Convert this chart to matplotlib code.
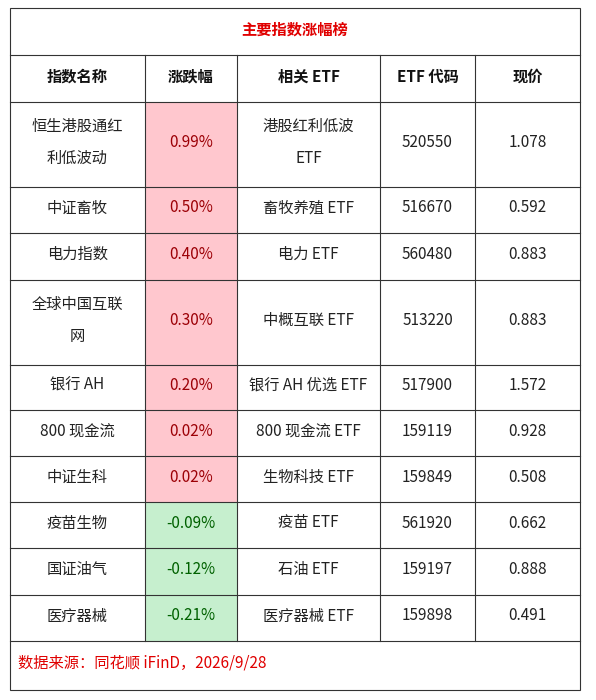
import matplotlib
matplotlib.use("Agg")
import matplotlib.pyplot as plt
from matplotlib.patches import Rectangle

plt.rcParams['font.family'] = ['Noto Sans CJK SC', 'DejaVu Sans']

title = "主要指数涨幅榜"
headers = ["指数名称", "涨跌幅", "相关 ETF", "ETF 代码", "现价"]
names = ["恒生港股通红\n利低波动", "中证畜牧", "电力指数", "全球中国互联\n网", "银行 AH", "800 现金流", "中证生科", "疫苗生物", "国证油气", "医疗器械"]
changes = [0.99, 0.50, 0.40, 0.30, 0.20, 0.02, 0.02, -0.09, -0.12, -0.21]
etfs = ["港股红利低波\nETF", "畜牧养殖 ETF", "电力 ETF", "中概互联 ETF", "银行 AH 优选 ETF", "800 现金流 ETF", "生物科技 ETF", "疫苗 ETF", "石油 ETF", "医疗器械 ETF"]
codes = ["520550", "516670", "560480", "513220", "517900", "159119", "159849", "561920", "159197", "159898"]
prices = ["1.078", "0.592", "0.883", "0.883", "1.572", "0.928", "0.508", "0.662", "0.888", "0.491"]
source = "数据来源：同花顺 iFinD，2026/9/28"

W, H = 596, 700
fig = plt.figure(figsize=(W/100, H/100), dpi=100)
ax = fig.add_axes([0, 0, 1, 1])
ax.set_xlim(0, W); ax.set_ylim(H, 0); ax.axis('off')

xs = [10, 145, 237, 380, 475, 580]
ys = [8, 55, 102, 187, 233, 280, 365, 410, 456, 502, 548, 595, 641, 690]
lc = '#333333'; lw = 0.8
red = '#E00000'
dy = -2

for i, c in enumerate(changes):
    y0, y1 = ys[i+2], ys[i+3]
    fc = '#FFC7CE' if c >= 0 else '#C6EFCE'
    ax.add_patch(Rectangle((xs[1], y0), xs[2]-xs[1], y1-y0, facecolor=fc, edgecolor='none'))

ax.add_patch(Rectangle((xs[0], ys[0]), xs[-1]-xs[0], ys[-1]-ys[0], fill=False, edgecolor=lc, lw=lw))
for y in ys[1:-1]:
    ax.plot([xs[0], xs[-1]], [y, y], color=lc, lw=lw)
for x in xs[1:-1]:
    ax.plot([x, x], [ys[1], ys[-2]], color=lc, lw=lw)

ax.text((xs[0]+xs[-1])/2, (ys[0]+ys[1])/2+dy, title, ha='center', va='center', fontsize=11, color=red, fontweight='bold')
for j, h in enumerate(headers):
    ax.text((xs[j]+xs[j+1])/2, (ys[1]+ys[2])/2+dy, h, ha='center', va='center', fontsize=11, fontweight='bold', color='#111111')

for i in range(len(names)):
    yc = (ys[i+2]+ys[i+3])/2 + dy
    c = changes[i]
    vals = [names[i], f"{c:.2f}%", etfs[i], codes[i], prices[i]]
    for j, v in enumerate(vals):
        col = '#222222'
        if j == 1:
            col = '#9C0006' if c >= 0 else '#006100'
        ax.text((xs[j]+xs[j+1])/2, yc, v, ha='center', va='center', fontsize=11, color=col, linespacing=2.2)

ax.text(18, (ys[-2]+ys[-1])/2+dy, source, ha='left', va='center', fontsize=11, color=red)
fig.savefig("out.png", dpi=100)
